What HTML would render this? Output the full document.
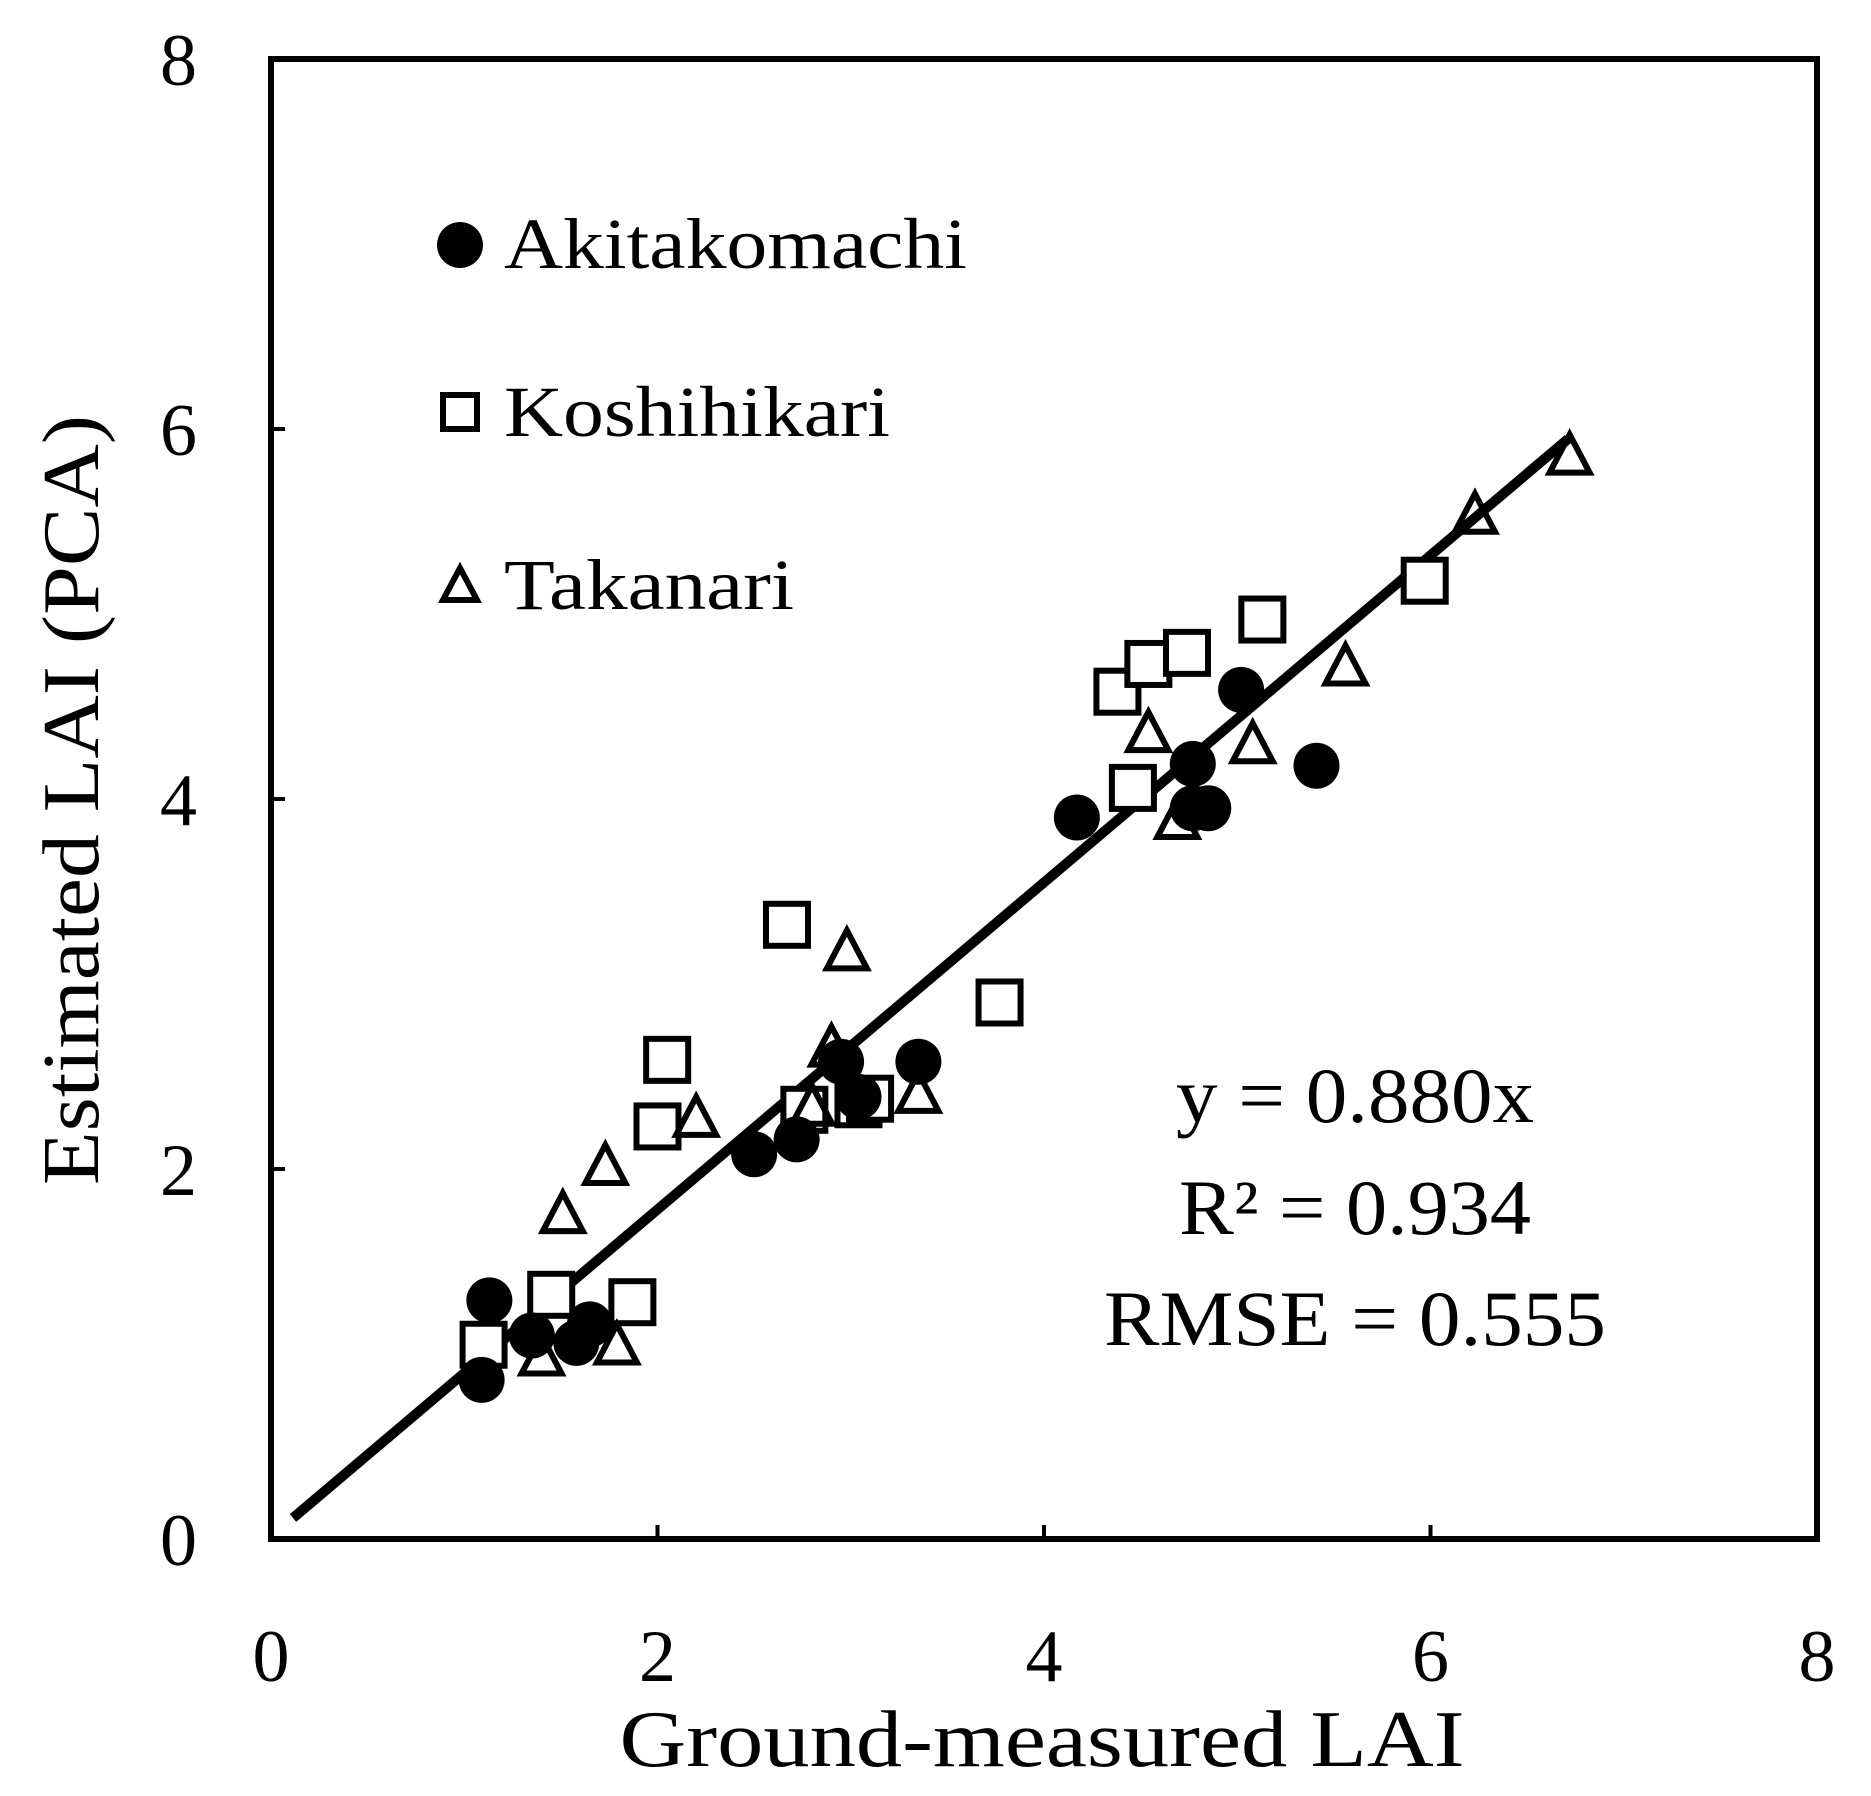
<!DOCTYPE html>
<html><head><meta charset="utf-8"><style>
html,body{margin:0;padding:0;background:#fff;}
svg{display:block;}
text{font-family:"Liberation Serif",serif;fill:#000;}
</style></head><body>
<svg id="s" width="1871" height="1796" viewBox="0 0 1871 1796" xmlns="http://www.w3.org/2000/svg">
<rect width="1871" height="1796" fill="#fff"/>
<g id="ticks" stroke="#000" stroke-width="4"></g>
<rect x="271" y="59" width="1546" height="1480" fill="none" stroke="#000" stroke-width="6"/>
<g font-size="74" text-anchor="middle">
<text x="271" y="1681">0</text><text x="657.5" y="1681">2</text><text x="1044" y="1681">4</text><text x="1430.5" y="1681">6</text><text x="1817" y="1681">8</text>
</g>
<g font-size="74" text-anchor="end">
<text x="197" y="1565">0</text><text x="197" y="1195">2</text><text x="197" y="825">4</text><text x="197" y="455">6</text><text x="197" y="85">8</text>
</g>
<text x="1042" y="1766" font-size="80" text-anchor="middle" textLength="845" lengthAdjust="spacingAndGlyphs">Ground-measured LAI</text>
<text transform="translate(98,800) rotate(-90)" font-size="80" text-anchor="middle" textLength="770" lengthAdjust="spacingAndGlyphs">Estimated LAI (PCA)</text>
<line x1="293" y1="1518" x2="1568" y2="439" stroke="#000" stroke-width="10"/>
<g id="pts" fill="none" stroke="#000" stroke-width="6"></g>
<g font-size="72">
<circle cx="460" cy="245" r="23" fill="#000"/>
<text x="504" y="268" textLength="463" lengthAdjust="spacingAndGlyphs">Akitakomachi</text>
<rect x="443" y="395" width="34" height="34" fill="none" stroke="#000" stroke-width="6"/>
<text x="504" y="436" textLength="386" lengthAdjust="spacingAndGlyphs">Koshihikari</text>
<polygon points="460,568 443,600 477,600" fill="none" stroke="#000" stroke-width="6"/>
<text x="504" y="609" textLength="290" lengthAdjust="spacingAndGlyphs">Takanari</text>
</g>
<g font-size="78" text-anchor="middle">
<text x="1355" y="1122" textLength="358" lengthAdjust="spacingAndGlyphs">y = 0.880x</text>
<text x="1355" y="1234" textLength="352" lengthAdjust="spacingAndGlyphs">R² = 0.934</text>
<text x="1355" y="1345" textLength="502" lengthAdjust="spacingAndGlyphs">RMSE = 0.555</text>
</g>
</svg>
<script>
var X=function(d){return 271+193.25*d},Y=function(d){return 1539-185*d};
var NS="http://www.w3.org/2000/svg";
var t=document.getElementById("ticks"),p=document.getElementById("pts");
function el(n,a,par){var e=document.createElementNS(NS,n);for(var k in a)e.setAttribute(k,a[k]);par.appendChild(e);return e;}
for(var i=1;i<4;i++){el("line",{x1:271,x2:285,y1:Y(2*i),y2:Y(2*i)},t);el("line",{x1:X(2*i),x2:X(2*i),y1:1539,y2:1525},t);}
var C=[[1.13,1.29],[1.09,0.86],[1.35,1.1],[1.58,1.06],[1.65,1.16],[2.5,2.08],[2.72,2.16],[2.95,2.58],[3.04,2.39],[3.35,2.58],[4.17,3.9],[4.77,4.19],[4.77,3.95],[4.85,3.95],[5.02,4.59],[5.41,4.18]];
var S=[[1.1,1.05],[1.45,1.32],[1.87,1.28],[2.0,2.23],[2.05,2.59],[2.67,3.32],[2.76,2.32],[3.04,2.35],[3.1,2.38],[3.77,2.9],[4.38,4.58],[4.46,4.06],[4.54,4.73],[4.74,4.79],[5.13,4.97],[5.97,5.18]];
var T=[[1.4,0.97],[1.51,1.74],[1.73,2.0],[1.79,1.03],[2.2,2.26],[2.8,2.32],[2.9,2.64],[2.98,3.16],[3.35,2.39],[4.54,4.34],[4.69,3.87],[5.08,4.28],[5.56,4.7],[6.23,5.52],[6.72,5.84]];
S.forEach(function(d){el("rect",{x:X(d[0])-21,y:Y(d[1])-21,width:42,height:42,fill:"#fff"},p);});
T.forEach(function(d){var x=X(d[0]),y=Y(d[1]);el("polygon",{points:x+","+(y-24)+" "+(x-20)+","+(y+14)+" "+(x+20)+","+(y+14)},p);});
C.forEach(function(d){el("circle",{cx:X(d[0]),cy:Y(d[1]),r:23,fill:"#000",stroke:"none"},p);});
</script>
</body></html>
